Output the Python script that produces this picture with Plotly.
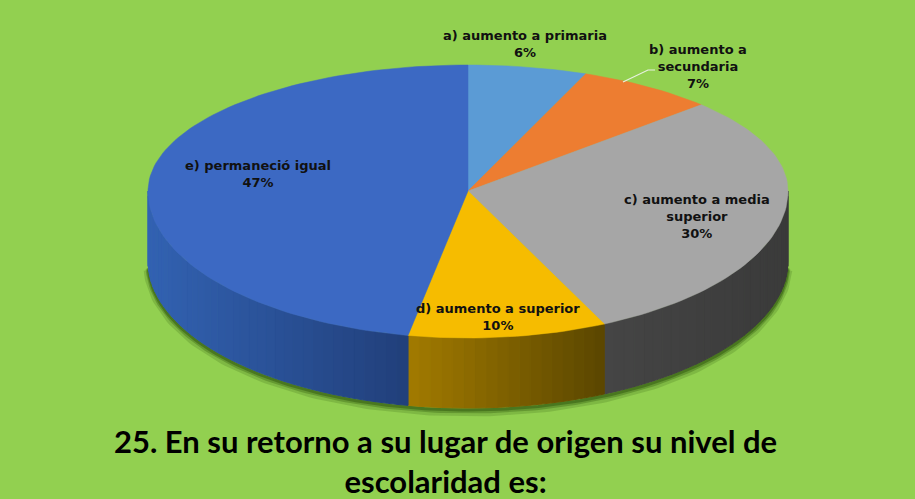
import math
import plotly.graph_objects as go

# ---- data ----
categories = ["a) aumento a primaria", "b) aumento a secundaria", "c) aumento a media superior",
              "d) aumento a superior", "e) permaneció igual"]
percentages = [6, 7, 30, 10, 47]
label_text = ["a) aumento a primaria<br>6%", "b) aumento a<br>secundaria<br>7%",
              "c) aumento a media<br>superior<br>30%", "d) aumento a superior<br>10%",
              "e) permaneció igual<br>47%"]
title_text = "25. En su retorno a su lugar de origen su nivel de<br>escolaridad es:"

# ---- styles ----
top_colors = ["#5b9bd5", "#ed7d31", "#a6a6a6", "#f6bc00", "#3c69c3"]
side_left = ["#3f76b0", "#b65a1c", "#454545", "#a27a00", "#3262b2"]
side_right = ["#2c5a8a", "#8a4413", "#3a3a3a", "#5a4600", "#213f7a"]
label_pos = [(525, 44), (698, 66), (697, 216), (498, 317), (258, 174)]

W, H = 915, 499
cx, cy = 468, 191
rx, ry_top, ry_bot = 320, 126, 147
depth = 70


def pt(t):
    r = math.radians(t)
    c = math.cos(r)
    ry = ry_top if c > 0 else ry_bot
    return cx + rx * math.sin(r), cy - ry * c


def hexmix(a, b, f):
    a = [int(a[i:i + 2], 16) for i in (1, 3, 5)]
    b = [int(b[i:i + 2], 16) for i in (1, 3, 5)]
    return "rgb(%d,%d,%d)" % tuple(round(a[i] + (b[i] - a[i]) * f) for i in range(3))


fig = go.Figure()

# soft shadow along the bottom edge of the pie
for off, wdt, op in [(4, 9, 0.18), (3, 5, 0.3), (2, 3, 0.45)]:
    xs, ys = [], []
    for k in range(0, 181):
        t = 92 + k * (176 / 180)
        x, y = pt(t)
        xs.append(x)
        ys.append(y + depth + off)
    fig.add_trace(go.Scatter(x=xs, y=ys, mode="lines",
                             line=dict(width=wdt, color="rgba(40,80,10,%.2f)" % op),
                             hoverinfo="skip", showlegend=False))

# slice angles
total = sum(percentages)
bounds = [0]
for p in percentages:
    bounds.append(bounds[-1] + p / total * 360)

# side walls (front half only)
for i in range(len(percentages)):
    t0, t1 = max(bounds[i], 90), min(bounds[i + 1], 270)
    if t1 <= t0:
        continue
    n = max(2, int((t1 - t0) / 2))
    xa0 = pt(t0)[0]
    xa1 = pt(t1)[0]
    for k in range(n):
        ta = t0 + (t1 - t0) * k / n
        tb = t0 + (t1 - t0) * (k + 1) / n
        (x1, y1), (x2, y2) = pt(ta), pt(tb)
        xm = (x1 + x2) / 2
        f = (xm - min(xa0, xa1)) / max(1, abs(xa1 - xa0))
        col = hexmix(side_left[i], side_right[i], min(1, max(0, f)))
        fig.add_trace(go.Scatter(x=[x1, x2, x2, x1, x1], y=[y1, y2, y2 + depth, y1 + depth, y1],
                                 fill="toself", mode="lines", line=dict(width=1, color=col),
                                 fillcolor=col, hoverinfo="skip", showlegend=False))

# top surfaces
for i in range(len(percentages)):
    t0, t1 = bounds[i], bounds[i + 1]
    n = max(4, int((t1 - t0) / 1.5))
    xs, ys = [cx], [cy]
    for k in range(n + 1):
        x, y = pt(t0 + (t1 - t0) * k / n)
        xs.append(x)
        ys.append(y)
    xs.append(cx)
    ys.append(cy)
    fig.add_trace(go.Scatter(x=xs, y=ys, fill="toself", mode="lines",
                             line=dict(width=0.5, color=top_colors[i]),
                             fillcolor=top_colors[i], hoverinfo="skip", showlegend=False,
                             name=categories[i]))

# labels
for i, txt in enumerate(label_text):
    fig.add_annotation(x=label_pos[i][0], y=label_pos[i][1], text="<b>%s</b>" % txt,
                       showarrow=False, xref="x", yref="y",
                       font=dict(family="DejaVu Sans", size=13, color="#111111"),
                       align="center")

# leader line for b
fig.add_shape(type="path", path="M 623 82 L 648 70 L 655 70", xref="x", yref="y",
              line=dict(color="#e8f0e0", width=1.2))

# title
fig.add_annotation(x=445, y=461, text="<b>%s</b>" % title_text, showarrow=False,
                   xref="x", yref="y", font=dict(family="Lato", size=31, color="#000000"),
                   align="center")

fig.update_layout(
    width=W, height=H, autosize=False,
    margin=dict(l=0, r=0, t=0, b=0),
    paper_bgcolor="#92d050", plot_bgcolor="#92d050",
    xaxis=dict(range=[0, W], visible=False, fixedrange=True),
    yaxis=dict(range=[H, 0], visible=False, fixedrange=True),
    showlegend=False,
)

fig.write_html("out.html", config={"displayModeBar": False},
               post_script="document.body.style.margin='0';document.body.style.background='#92d050';")
